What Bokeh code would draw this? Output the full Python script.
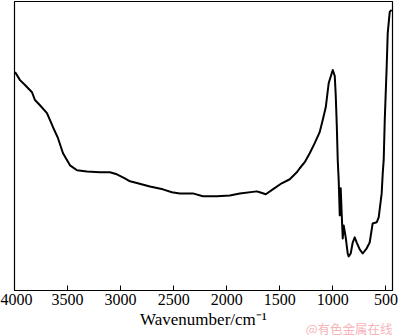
from bokeh.plotting import figure
from bokeh.models import Range1d, FixedTicker, Title
from bokeh.embed import file_html
from bokeh.resources import INLINE

wavenumber = [3995, 3948, 3901, 3835, 3807, 3760, 3694, 3637, 3590, 3543, 3477, 3411,
              3317, 3195, 3101, 3035, 2960, 2912, 2865, 2724, 2602, 2517, 2442, 2319,
              2225, 2093, 1971, 1877, 1717, 1689, 1632, 1566, 1482, 1406, 1340, 1312,
              1265, 1218, 1171, 1124, 1096, 1067, 1039, 1001, 982, 973, 963, 954, 945,
              935, 926, 917, 907, 898, 879, 860, 851, 832, 813, 794, 775, 747, 719, 681,
              653, 625, 587, 568, 540, 530, 521, 511, 493, 483, 464, 446]
transmittance = [75.6, 72.8, 71.1, 68.6, 65.9, 64.1, 61.4, 56.5, 52.7, 47.5, 43.3, 41.6,
                 41.2, 40.9, 40.9, 40.2, 38.8, 37.8, 37.4, 36.0, 35.0, 34.0, 33.6, 33.6,
                 32.6, 32.6, 32.9, 33.6, 34.3, 34.0, 33.3, 35.0, 37.1, 38.5, 40.9, 42.3,
                 44.4, 47.5, 51.0, 54.8, 58.9, 63.4, 71.8, 76.3, 74.2, 67.6, 57.2, 45.1, 38.1,
                 26.0, 35.4, 26.7, 18.0, 22.5, 18.4, 12.8, 11.8, 12.8, 16.6, 18.4, 16.6, 14.2,
                 12.8, 14.6, 16.6, 23.2, 23.6, 25.3, 33.6, 40.6, 45.1, 58.9, 77.3, 89.1, 96.4, 97.1]
x_ticks = [4000, 3500, 3000, 2500, 2000, 1500, 1000, 500]
watermark = "@有色金属在线"

SERIF = "'Liberation Serif'"

p = figure(width=400, height=335, output_backend="svg", toolbar_location=None,
           x_range=Range1d(4000, 438), y_range=Range1d(0, 100),
           min_border_left=14, min_border_right=8, min_border_top=1, min_border_bottom=45)
p.background_fill_color = "white"
p.border_fill_color = "white"
p.outline_line_color = "black"
p.outline_line_width = 1.2
p.xgrid.visible = False
p.ygrid.visible = False
p.yaxis.visible = False

ax = p.xaxis[0]
ax.ticker = FixedTicker(ticks=x_ticks)
ax.major_tick_in = 5
ax.major_tick_out = 0
ax.minor_tick_line_color = None
ax.axis_line_color = "black"
ax.major_tick_line_color = "black"
ax.major_label_text_font = SERIF
ax.major_label_text_font_size = "16px"
ax.major_label_text_color = "black"
ax.major_label_standoff = 3
ax.axis_label = "Wavenumber/cm\u207b\u00b9"
ax.axis_label_text_font = SERIF
ax.axis_label_text_font_size = "17px"
ax.axis_label_text_font_style = "normal"
ax.axis_label_text_color = "black"
ax.axis_label_standoff = 2

p.line(wavenumber, transmittance, line_color="black", line_width=2, line_join="round")

wm = Title(text=watermark, align="right", vertical_align="top", standoff=-26, offset=0,
           text_font="'Noto Sans CJK SC'", text_font_size="12.5px",
           text_font_style="normal", text_color="#f4b4ba")
p.add_layout(wm, "below")

open("out.html", "w").write(file_html(p, INLINE))
